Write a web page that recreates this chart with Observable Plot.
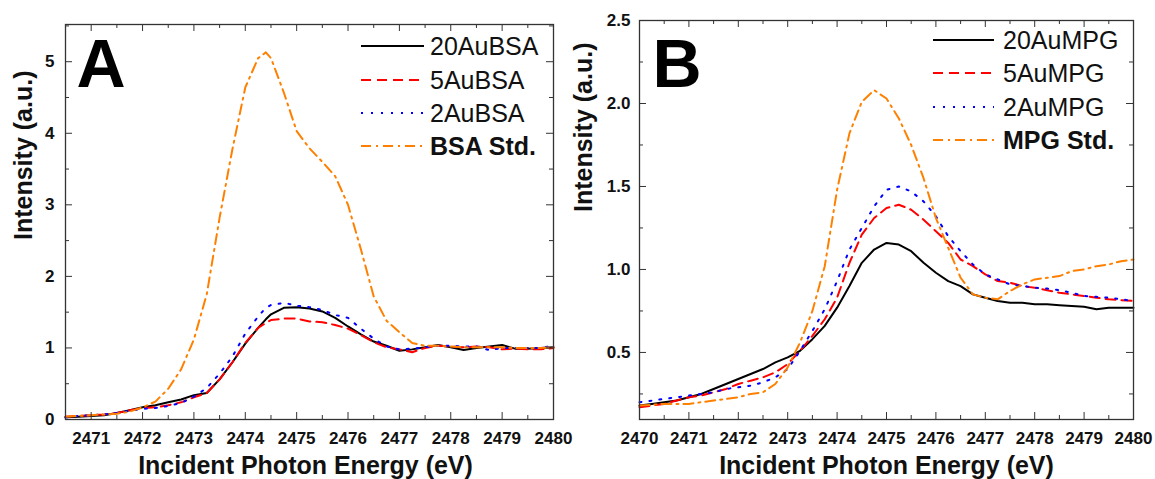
<!DOCTYPE html>
<html><head><meta charset="utf-8">
<script src="https://cdn.jsdelivr.net/npm/d3@7"></script>
<script src="https://cdn.jsdelivr.net/npm/@observablehq/plot@0.6"></script>
<style>
body{margin:0;background:#fff;}
#wrap{position:relative;width:1155px;height:479px;overflow:hidden;background:#fff;}
#wrap svg{position:absolute;top:0;}
</style></head><body><div id="wrap"></div>
<script>
// ---- Panel A data ----
const energyA = [2470.5,2470.75,2471,2471.25,2471.5,2471.75,2472,2472.25,2472.5,2472.75,2473,2473.25,2473.5,2473.75,2474,2474.25,2474.4,2474.5,2474.75,2475,2475.25,2475.5,2475.75,2476,2476.25,2476.5,2476.75,2477,2477.25,2477.5,2477.75,2478,2478.25,2478.5,2478.75,2479,2479.25,2479.5,2479.75,2480];
const au20BSA = [0.03,0.04,0.05,0.06,0.09,0.13,0.17,0.20,0.24,0.28,0.34,0.37,0.56,0.80,1.06,1.28,1.40,1.47,1.56,1.57,1.55,1.51,1.42,1.30,1.19,1.09,1.03,0.96,0.98,1.01,1.04,1.01,0.97,1.00,1.02,1.04,0.99,0.99,1.00,1.01];
const au5BSA = [0.04,0.05,0.06,0.07,0.09,0.13,0.16,0.17,0.20,0.24,0.31,0.37,0.56,0.80,1.07,1.28,1.35,1.39,1.41,1.41,1.37,1.36,1.32,1.27,1.18,1.08,1.01,0.98,0.94,1.00,1.03,1.02,1.01,1.02,1.01,0.98,0.99,0.98,0.98,1.00];
const au2BSA = [0.03,0.05,0.06,0.07,0.09,0.12,0.15,0.16,0.19,0.23,0.32,0.44,0.64,0.88,1.20,1.44,1.56,1.60,1.63,1.59,1.57,1.53,1.46,1.42,1.27,1.13,1.02,0.98,0.99,1.01,1.03,1.03,1.02,1.02,0.97,1.00,1.00,1.00,1.00,1.03];
const bsaStd = [0.04,0.05,0.06,0.07,0.08,0.11,0.17,0.25,0.43,0.70,1.12,1.75,2.82,3.78,4.64,5.05,5.13,5.05,4.57,4.03,3.79,3.60,3.40,3.00,2.38,1.72,1.38,1.22,1.07,1.03,1.03,1.02,1.01,1.01,1.01,1.01,1.00,1.00,1.00,1.01];
const namesA = ["20AuBSA","5AuBSA","2AuBSA","BSA Std."];
const xTicksA = [2471,2472,2473,2474,2475,2476,2477,2478,2479,2480];
const yTicksA = [0,1,2,3,4,5];

// ---- Panel B data ----
const energyB = [2470,2470.25,2470.5,2470.75,2471,2471.25,2471.5,2471.75,2472,2472.25,2472.5,2472.75,2473,2473.25,2473.5,2473.75,2474,2474.25,2474.5,2474.75,2475,2475.25,2475.5,2475.75,2476,2476.25,2476.5,2476.75,2477,2477.25,2477.5,2477.75,2478,2478.25,2478.5,2478.75,2479,2479.25,2479.5,2479.75,2480];
const au20MPG = [0.18,0.19,0.20,0.21,0.23,0.25,0.28,0.31,0.34,0.37,0.40,0.44,0.47,0.51,0.58,0.66,0.77,0.90,1.04,1.12,1.16,1.15,1.11,1.04,0.98,0.93,0.90,0.85,0.83,0.81,0.80,0.80,0.79,0.79,0.785,0.78,0.775,0.76,0.77,0.77,0.77];
const au5MPG = [0.17,0.18,0.19,0.21,0.23,0.24,0.26,0.28,0.31,0.33,0.35,0.38,0.43,0.51,0.60,0.70,0.83,1.04,1.21,1.31,1.37,1.39,1.36,1.30,1.23,1.16,1.06,1.02,0.97,0.93,0.92,0.90,0.89,0.875,0.86,0.85,0.84,0.83,0.82,0.815,0.81];
const au2MPG = [0.20,0.21,0.22,0.23,0.24,0.25,0.26,0.28,0.29,0.30,0.32,0.35,0.40,0.51,0.63,0.76,0.93,1.12,1.25,1.38,1.48,1.50,1.47,1.41,1.32,1.20,1.11,1.03,0.97,0.94,0.91,0.90,0.89,0.885,0.875,0.86,0.84,0.835,0.83,0.82,0.81];
const mpgStd = [0.18,0.185,0.19,0.19,0.19,0.20,0.21,0.22,0.23,0.25,0.26,0.31,0.41,0.56,0.75,1.02,1.48,1.82,2.01,2.08,2.03,1.91,1.75,1.55,1.31,1.13,0.95,0.85,0.83,0.82,0.87,0.91,0.94,0.95,0.96,0.99,1.00,1.02,1.03,1.05,1.06];
const namesB = ["20AuMPG","5AuMPG","2AuMPG","MPG Std."];
const xTicksB = [2470,2471,2472,2473,2474,2475,2476,2477,2478,2479,2480];
const yTicksB = [0.5,1.0,1.5,2.0,2.5];

const styles = [
  {stroke:"#000000", dash:null, weight:"normal"},
  {stroke:"#ff0000", dash:"10,6", weight:"normal"},
  {stroke:"#0000ff", dash:"2,8", weight:"normal"},
  {stroke:"#ff8000", dash:"10,5,2,5", weight:"bold"}
];
const FONT = "'Liberation Sans', Arial, Helvetica, sans-serif";

function range(a, b, s) { const out = []; for (let v = a; v <= b + 1e-9; v += s) out.push(+v.toFixed(4)); return out; }

function panel(cfg) {
  const {left, width, mL, mR, mT, mB, energies, series, names, xDomain, yDomain,
         xTicks, xMinor, yTicks, yMinor, yFormat, yPad, letter, letterDx, letterDy,
         yTitleDx, yTitleDy, xTitleDx, legend} = cfg;
  const height = 479;
  const innerW = width - mL - mR, innerH = height - mT - mB;
  const tickC = "#333";
  const marks = [];
  series.forEach((vals, k) => {
    const rows = energies.map((e, i) => ({e, v: vals[i]}));
    marks.push(Plot.line(rows, {x: "e", y: "v", stroke: styles[k].stroke, strokeWidth: 2,
      strokeDasharray: styles[k].dash || undefined}));
  });
  marks.push(
    Plot.tickX(xMinor, {x: d => d, insetTop: innerH - 4, stroke: tickC}),
    Plot.tickX(xMinor, {x: d => d, insetBottom: innerH - 4, stroke: tickC}),
    Plot.tickX(xTicks, {x: d => d, insetTop: innerH - 7, stroke: tickC}),
    Plot.tickX(xTicks, {x: d => d, insetBottom: innerH - 7, stroke: tickC}),
    Plot.tickY(yMinor, {y: d => d, insetRight: innerW - 4, stroke: tickC}),
    Plot.tickY(yMinor, {y: d => d, insetLeft: innerW - 4, stroke: tickC}),
    Plot.tickY(yTicks, {y: d => d, insetRight: innerW - 7, stroke: tickC}),
    Plot.tickY(yTicks, {y: d => d, insetLeft: innerW - 7, stroke: tickC}),
    Plot.frame({stroke: tickC, strokeWidth: 1.3}),
    Plot.axisX(xTicks, {anchor: "bottom", tickSize: 0, tickPadding: 12, fontSize: 17, fontWeight: "bold", label: null, tickFormat: d => String(d), fill: "#111"}),
    Plot.axisY(yTicks, {anchor: "left", tickSize: 0, tickPadding: yPad, fontSize: 17, fontWeight: "bold", label: null, tickFormat: yFormat, fill: "#111"}),
    Plot.text(["Intensity (a.u.)"], {frameAnchor: "left", dx: yTitleDx, dy: yTitleDy, rotate: -90, fontSize: 25, fontWeight: "bold", fill: "#111"}),
    Plot.text(["Incident Photon Energy (eV)"], {frameAnchor: "bottom", dx: xTitleDx, dy: 54, lineAnchor: "bottom", fontSize: 25, fontWeight: "bold", fill: "#111"}),
    Plot.text([letter], {frameAnchor: "top-left", dx: letterDx, dy: letterDy, lineAnchor: "top", textAnchor: "start", fontSize: 68, fontWeight: "bold", fill: "#000"})
  );
  const svg = Plot.plot({
    width, height, marginLeft: mL, marginRight: mR, marginTop: mT, marginBottom: mB,
    x: {domain: xDomain, label: null},
    y: {domain: yDomain, label: null},
    style: {fontFamily: FONT, background: "transparent", overflow: "visible"},
    marks
  });
  svg.style.left = left + "px";
  svg.style.maxWidth = "none";
  // legend inside plot area
  const g = d3.select(svg).append("g").attr("font-family", FONT).attr("text-anchor", "start");
  names.forEach((name, k) => {
    const cy = legend.rows[k];
    g.append("line").attr("x1", legend.x1).attr("x2", legend.x2).attr("y1", cy).attr("y2", cy)
      .attr("stroke", styles[k].stroke).attr("stroke-width", 2)
      .attr("stroke-dasharray", styles[k].dash);
    g.append("text").attr("x", legend.tx).attr("y", cy + 9).attr("font-size", 25)
      .attr("text-anchor", "start")
      .attr("font-weight", styles[k].weight).attr("fill", "#111").text(name);
  });
  document.getElementById("wrap").appendChild(svg);
}

panel({
  left: 0, width: 580, mL: 65, mR: 27, mT: 24, mB: 60,
  energies: energyA, series: [au20BSA, au5BSA, au2BSA, bsaStd], names: namesA,
  xDomain: [2470.5, 2480], yDomain: [0, 5.52],
  xTicks: xTicksA, xMinor: range(2470.5, 2479.5, 1), yTicks: yTicksA, yMinor: range(0.5, 5.5, 1),
  yFormat: d => String(d), yPad: 11,
  letter: "A", letterDx: 11, letterDy: 14,
  yTitleDx: -42, yTitleDy: 18, xTitleDx: -4,
  legend: {x1: 361, x2: 424, tx: 430, rows: [46, 80, 113, 146]}
});

panel({
  left: 560, width: 595, mL: 79, mR: 22, mT: 20, mB: 60,
  energies: energyB, series: [au20MPG, au5MPG, au2MPG, mpgStd], names: namesB,
  xDomain: [2470, 2480], yDomain: [0.096, 2.5],
  xTicks: xTicksB, xMinor: range(2470.5, 2479.5, 1), yTicks: yTicksB, yMinor: range(0.25, 2.25, 0.5),
  yFormat: d3.format(".1f"), yPad: 9,
  letter: "B", letterDx: 13, letterDy: 18,
  yTitleDx: -56, yTitleDy: -8, xTitleDx: 0,
  legend: {x1: 373, x2: 434, tx: 443, rows: [40, 73, 107, 140]}
});
</script></body></html>
